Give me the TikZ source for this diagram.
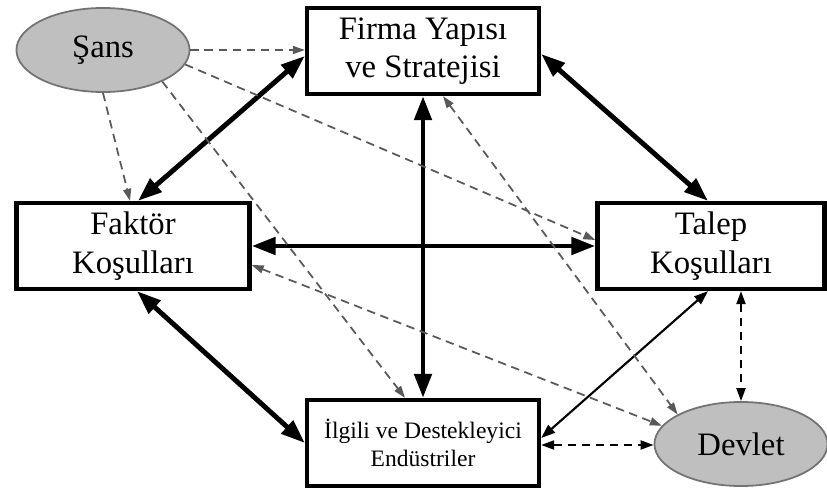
\documentclass[tikz,border=0pt]{standalone}
\usepackage{fontspec}
\setmainfont{Liberation Serif}
\usetikzlibrary{arrows.meta,shapes.geometric}

\begin{document}
\begin{tikzpicture}[x=0.01cm,y=-0.01cm,
    box/.style={draw,line width=1.2pt,minimum height=0.86cm,align=center,inner sep=1pt,font=\fontsize{9.3}{11}\selectfont},
    blob/.style={ellipse,draw=black!55,fill=black!25,line width=0.5pt,minimum width=1.73cm,minimum height=0.84cm,font=\fontsize{9.3}{11}\selectfont},
    strong/.style={line width=1.4pt,>={Triangle[length=0.24cm,width=0.17cm]},<->},
    weak/.style={line width=0.6pt,>={Triangle[length=0.14cm,width=0.1cm]},<->},
    link/.style={line width=0.6pt,dash pattern=on 2.4pt off 1.6pt,>={Triangle[length=0.13cm,width=0.09cm]},<->},
    faint/.style={draw=black!65,line width=0.5pt,dash pattern=on 2.4pt off 1.6pt,>={Triangle[length=0.12cm,width=0.08cm]}},
    chance/.style={faint,->}]
    \useasboundingbox (0,0) rectangle (827,491);

    % Draw the four boxes
    \node[box,minimum width=2.32cm] (firma) at (423,51) {Firma Yapısı\\ve Stratejisi};
    \node[box,minimum width=2.33cm] (faktor) at (133,246) {Faktör\\Koşulları};
    \node[box,minimum width=2.27cm] (talep) at (711,246) {Talep\\Koşulları};
    \node[box,minimum width=2.32cm,font=\fontsize{6.7}{8}\selectfont] (ilgili) at (423,443) {İlgili ve Destekleyici\\Endüstriler};

    % Draw the two ellipses
    \node[blob] (sans) at (103,50) {Şans};
    \node[blob] (devlet) at (741,444) {Devlet};

    % Thick arrows of the diamond
    \draw[strong] ([xshift=0.05cm]faktor.north) -- ([yshift=-0.05cm]firma.west);
    \draw[strong] ([yshift=-0.03cm]firma.east) -- ([xshift=-0.03cm]talep.north);
    \draw[strong] (firma) -- (ilgili);
    \draw[strong] (faktor) -- (talep);
    \draw[strong] ([xshift=0.04cm]faktor.south) -- (ilgili.west);
    \draw[weak] ([xshift=-0.03cm]talep.south) -- ([yshift=0.05cm]ilgili.east);

    % Devlet links
    \draw[link] (devlet.north |- talep.south) -- (devlet.north);
    \draw[link] ([yshift=-0.02cm]ilgili.east) -- ([yshift=-0.02cm]ilgili.east -| devlet.west);
    \draw[faint,<->] ([xshift=0.2cm]firma.south) -- (devlet.155);
    \draw[faint,<->] ([yshift=-0.19cm]faktor.east) -- (devlet.167);

    % Sans links
    \draw[chance] (sans.east) -- (sans.east -| firma.west);
    \draw[chance] (sans.south) -- ([xshift=-0.03cm]faktor.north);
    \draw[chance] (sans.-28) -- ([xshift=-0.18cm]ilgili.north);
    \draw[chance] (sans.-10) -- ([yshift=0.06cm]talep.west);

\end{tikzpicture}
\end{document}
